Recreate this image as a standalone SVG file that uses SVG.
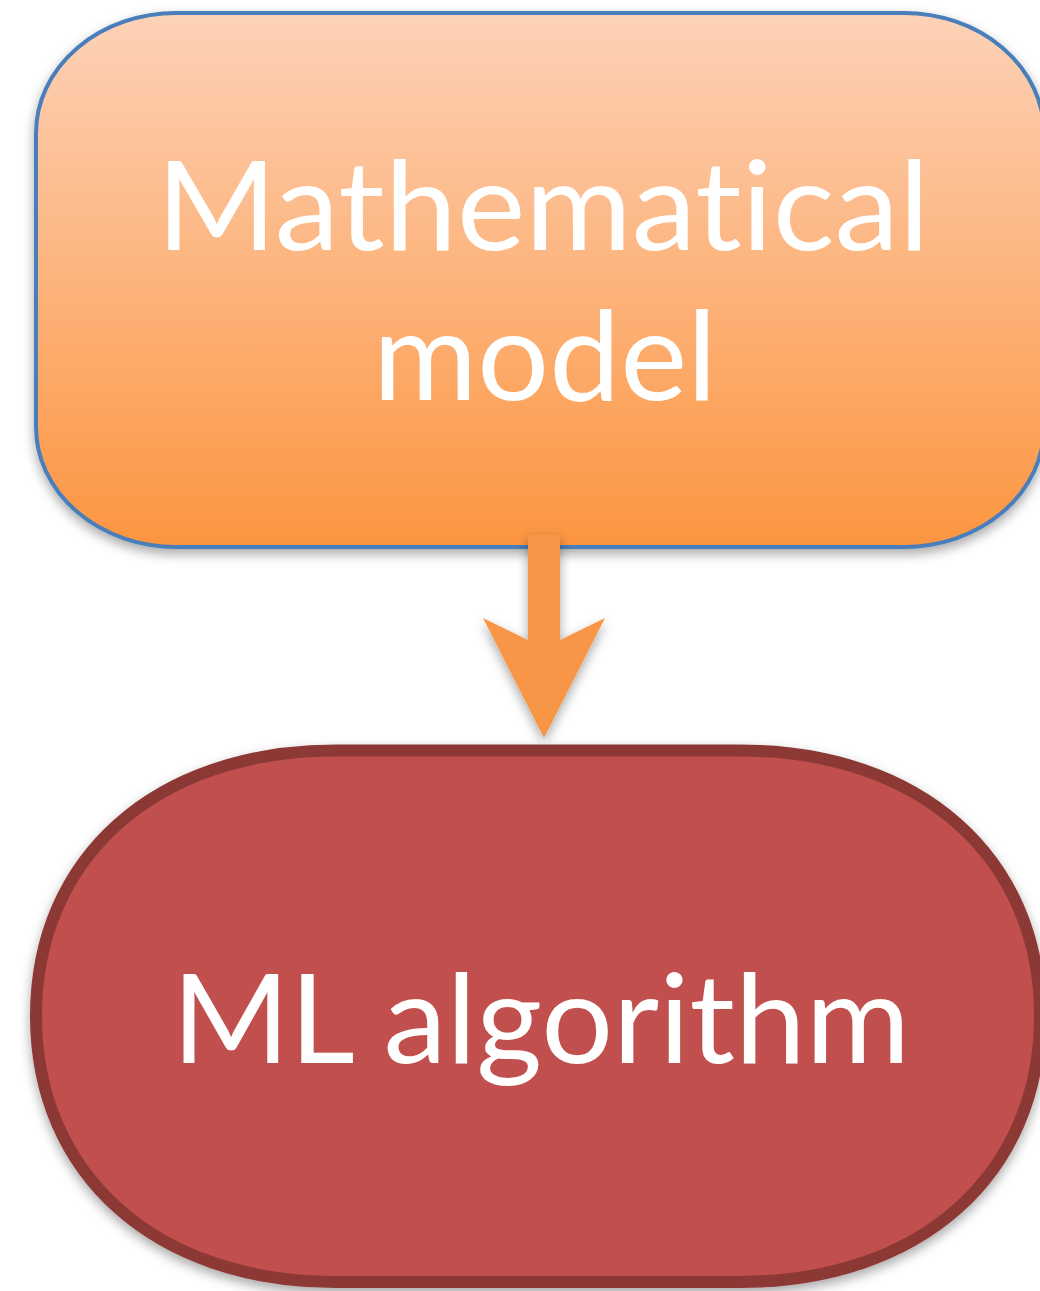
<svg xmlns="http://www.w3.org/2000/svg" width="1040" height="1291" viewBox="0 0 1040 1291">
<style>
.lbl{font-family:Lato,"Open Sans","Liberation Sans",sans-serif;font-size:124px;fill:#ffffff;text-anchor:middle;font-variant-ligatures:none;font-feature-settings:"liga" 0,"clig" 0}
</style>
<defs>
<linearGradient id="gOrange" x1="0" y1="0" x2="0" y2="1">
<stop offset="0" stop-color="#fdd2b8"/>
<stop offset="1" stop-color="#fc9540"/>
</linearGradient>
<filter id="shadow" x="-10%" y="-10%" width="120%" height="130%">
<feDropShadow dx="0" dy="5" stdDeviation="6" flood-color="#000" flood-opacity="0.35"/>
</filter>
</defs>
<rect width="1040" height="1291" fill="#ffffff"/>
<g id="node-math">
<rect x="36" y="13" width="1008" height="534" rx="140" ry="120" fill="url(#gOrange)" stroke="#4a7ebb" stroke-width="4" filter="url(#shadow)"/>
<text class="lbl" x="543" y="250" textLength="773" lengthAdjust="spacingAndGlyphs">Mathematical</text>
<text class="lbl" x="545" y="400" textLength="344" lengthAdjust="spacingAndGlyphs">model</text>
</g>
<g id="node-ml">
<path d="M336 750.5 H740 C920 750.5 1040 857 1040 1016 C1040 1175 920 1282 740 1282 H336 C156 1282 36 1175 36 1016 C36 857 156 750.5 336 750.5 Z" fill="#c0504d" stroke="#8c3836" stroke-width="12" filter="url(#shadow)"/>
<text class="lbl" x="541" y="1063" textLength="738" lengthAdjust="spacingAndGlyphs">ML algorithm</text>
</g>
<g id="connectors">
<path d="M528 535 H560 V640 L605 618 L544 738 L483 618 L528 640 Z" fill="#f79646" filter="url(#shadow)"/>
</g>
</svg>
